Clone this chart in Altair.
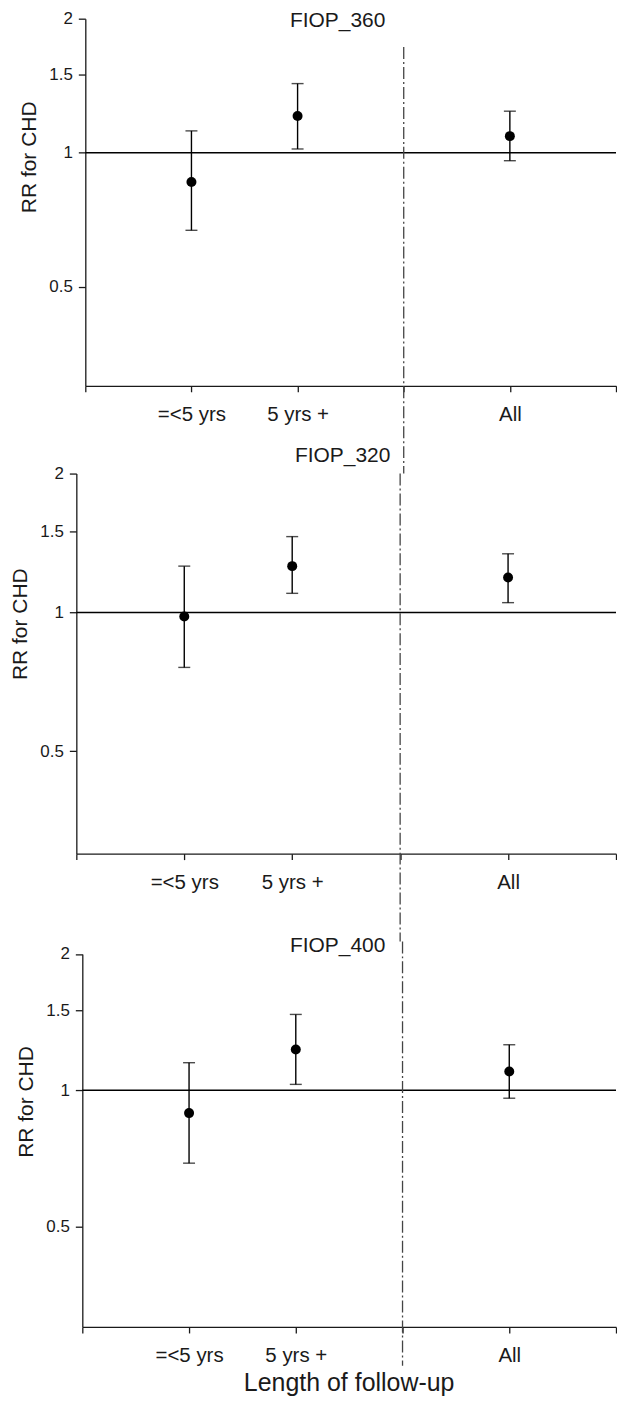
import altair as alt
import pandas as pd

# ---- data ----
categories = ["=<5 yrs", "5 yrs +", "All"]
slots = [1, 2, 4]            # category slot on the follow-up index axis
x_ticks = [0, 1, 2, 3, 4, 5]
divider_slot = 3
reference_rr = 1
y_ticks = [0.5, 1, 1.5, 2]
y_domain = [0.3, 2]

panel_titles = ["FIOP_360", "FIOP_320", "FIOP_400"]
rr_360 = [0.86, 1.21, 1.09]
lo_360 = [0.67, 1.02, 0.96]
hi_360 = [1.12, 1.43, 1.24]

rr_320 = [0.98, 1.26, 1.19]
lo_320 = [0.76, 1.10, 1.05]
hi_320 = [1.26, 1.46, 1.34]

rr_400 = [0.89, 1.23, 1.10]
lo_400 = [0.69, 1.03, 0.96]
hi_400 = [1.15, 1.47, 1.26]

FONT = "Liberation Sans"
INK = "#1a1a1a"
W = 541

label_expr = " : ".join(
    f"datum.value == {s} ? '{c}'" for s, c in zip(slots, categories)
) + " : ''"


def panel(title, rr, lo, hi, height, xrange, yrange, axis_shift, title_xy, title_base,
          ytitle_y, dash_y, xtitle):
    df = pd.DataFrame({"slot": slots, "cat": categories, "rr": rr, "lo": lo, "hi": hi})
    xs = alt.Scale(domain=[0, 5], range=xrange, nice=False, zero=False)
    ys = alt.Scale(type="log", domain=y_domain, range=yrange, nice=False)

    xaxis = alt.Axis(values=x_ticks, labelExpr=label_expr, tickSize=6, labelPadding=13,
                     labelFontSize=20.5, labelFont=FONT, labelColor=INK, grid=False,
                     domainColor=INK, tickColor=INK, domainWidth=1.3, tickWidth=1.3,
                     labelFlush=False, labelOverlap=False,
                     title=xtitle if xtitle else None,
                     titleFontSize=25, titleFont=FONT, titleFontWeight="normal",
                     titleColor=INK, titleX=273, titleY=64, titleBaseline="alphabetic")
    yaxis = alt.Axis(values=y_ticks, format="~g", tickSize=7, labelPadding=6,
                     labelFontSize=17, labelFont=FONT, labelColor=INK, grid=False,
                     domainColor=INK, tickColor=INK, domainWidth=1.3, tickWidth=1.3,
                     offset=axis_shift, title="RR for CHD", titleFontSize=21,
                     titleFont=FONT, titleFontWeight="normal", titleColor=INK,
                     titleX=-56, titleY=ytitle_y, titleBaseline="middle")

    base = alt.Chart(df)
    pts = base.mark_circle(size=100, color="black", opacity=1).encode(
        x=alt.X("slot:Q", scale=xs, axis=xaxis),
        y=alt.Y("rr:Q", scale=ys, axis=yaxis),
    )
    bars = base.mark_rule(color="black", strokeWidth=1.4).encode(
        x="slot:Q", y="lo:Q", y2="hi:Q")
    cap_lo = base.mark_tick(orient="horizontal", size=12, thickness=1.4, color="black").encode(
        x="slot:Q", y="lo:Q")
    cap_hi = base.mark_tick(orient="horizontal", size=12, thickness=1.4, color="black").encode(
        x="slot:Q", y="hi:Q")
    one = pd.DataFrame({"ref": [reference_rr], "x0": [x_ticks[0]], "x1": [x_ticks[-1]],
                        "div": [divider_slot], "title": [title]})
    ref = alt.Chart(one).mark_rule(color="black", strokeWidth=1.4).encode(
        y="ref:Q", x="x0:Q", x2="x1:Q")
    dash = alt.Chart(one).mark_rule(color="#444444", strokeWidth=1.3,
                                    strokeDash=[12, 3, 2, 3]).encode(
        x="div:Q", y=alt.value(dash_y[0]), y2=alt.value(dash_y[1]))
    ttl = alt.Chart(one).mark_text(fontSize=21, font=FONT, color=INK, align="center",
                                   baseline=title_base).encode(
        x=alt.value(title_xy[0]), y=alt.value(title_xy[1]), text="title:N")

    return alt.layer(ref, dash, bars, cap_lo, cap_hi, pts, ttl).properties(
        width=W, height=height)


p1 = panel(panel_titles[0], rr_360, lo_360, hi_360, 368, [9, 541], [368, 0], -9,
           (262, -8.5), "top", 138.5, [28.5, 456], None)
p2 = panel(panel_titles[1], rr_320, lo_320, hi_320, 381, [0, 541], [381, 0], 0,
           (267, -12), "alphabetic", 150.5, [0, 469], None)
p3 = panel(panel_titles[2], rr_400, lo_400, hi_400, 386.5, [6, 541], [386.5, 12.5], -6,
           (262, 11), "alphabetic", 160.5, [0, 425.5], "Length of follow-up")

chart = alt.vconcat(p1, p2, p3, spacing=88, bounds="flush").properties(
    padding={"left": 1.5, "top": 0, "right": 0, "bottom": 0}
).configure(font=FONT).configure_view(stroke=None)

chart.save("out.html", embed_options={"renderer": "svg", "actions": False})
